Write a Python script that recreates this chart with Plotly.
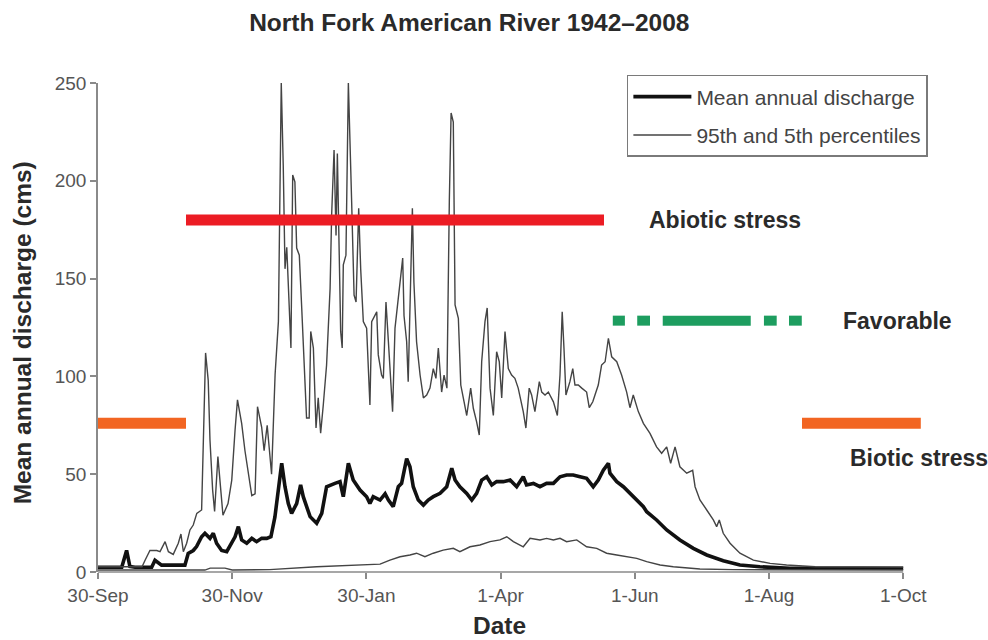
import plotly.graph_objects as go

# ---------------- data (days since 30-Sep, discharge in cms) ----------------
tick_days = [0, 61, 122, 183, 244, 305, 366]
tick_labels = ["30-Sep", "30-Nov", "30-Jan", "1-Apr", "1-Jun", "1-Aug", "1-Oct"]

p95_days = [0, 20, 21.4, 23.6, 26.7, 28.2, 30.5, 32, 34.2, 36.5,
            37.7, 38.8, 40.3, 41.8, 43.3, 44.9, 47.1, 47.9, 48.9, 50.1,
            50.9, 52.1, 53, 54.5, 56.8, 59.1, 60.8, 62.3, 63.4, 65.3,
            66.8, 69.9, 71.4, 72.5, 74.4, 75.5, 76.9, 78.9, 80.5, 82,
            83.3, 84.2, 85, 85.8, 87, 87.7, 88.5, 89.5, 90.3, 91.5,
            92.6, 93.3, 94.8, 96, 96.7, 97.9, 99.1, 100.1, 101.2, 102.4,
            103.9, 105.5, 106.2, 107.3, 108.2, 108.8, 109.7, 110.3, 111, 111.5,
            112.7, 113.8, 115.3, 116.4, 117.3, 118.5, 119.4, 120.6, 122.1, 123.6,
            124.4, 126.7, 127.4, 128.9, 129.7, 130.9, 132, 133, 133.9, 135,
            136, 136.9, 138.5, 139.1, 140.3, 141, 142.1, 142.9, 143.6, 144.8,
            146.4, 147.9, 149.4, 150.9, 152.4, 153.6, 154.7, 156.2, 157.3, 158.6,
            159.7, 160.5, 161.5, 162.3, 163.8, 164.9, 166.4, 167.6, 169.4, 170.6,
            172.1, 173.3, 174.4, 175.9, 176.9, 178.2, 179.7, 181.2, 182.4, 183.5,
            185, 186.5, 188, 189.5, 191, 193.3, 194.5, 196, 197.1, 198.6,
            200.6, 201.7, 203.2, 204.7, 207, 208.8, 210, 211, 211.8, 212.7,
            214.5, 215.8, 216.8, 218.3, 219.9, 222.1, 223.3, 224.9, 225.9, 227.4,
            228.9, 230.5, 232, 233.5, 235.8, 238, 240.3, 241.8, 243.3, 245.6,
            247.9, 250.9, 253.9, 256.2, 258.5, 260.3, 262.3, 264.5, 267.6, 270.3,
            271.4, 273.6, 276.7, 279.7, 281.2, 282.4, 284.2, 287.3, 291.8, 297.9,
            305.5, 313, 326, 366]
p95_vals = [2.7, 2.7, 6, 11, 11, 10.4, 15.5, 10.4, 9, 14.7,
            19.4, 10.4, 14.7, 21.5, 24, 30, 31.7, 72.6, 112, 98,
            67.5, 42, 31, 59, 29, 35, 47, 72.6, 88, 76,
            62, 39, 40, 84.5, 74, 62, 75, 50, 101, 128,
            250, 208, 155, 166, 135, 114.5, 203, 199.5, 165.6, 162,
            135, 117.7, 78.7, 78.7, 123, 114.5, 73.6, 89, 71, 85.4,
            105.8, 145, 182.5, 215.7, 172, 214, 152, 123, 114.5, 157,
            162, 250, 189, 141.6, 138, 186, 155, 128, 124.7, 85.4,
            128, 133, 111, 100.7, 99, 138, 117.7, 100.7, 82, 124.7,
            135, 145, 160.5, 131, 117.7, 97.3, 145, 186, 148, 117.7,
            100.7, 89, 90.5, 94, 104, 99, 114.5, 92, 100.7, 94,
            190, 234.7, 230, 136.5, 129.7, 95.6, 87, 80, 94, 83.7,
            76.8, 70, 107.5, 128, 135, 94, 80, 112.6, 107.5, 89,
            122.9, 104, 100.7, 99, 94, 82, 73.6, 94, 90.5, 82,
            97.3, 92, 90.5, 92, 87, 80, 100.7, 133, 114.5, 90.5,
            97.3, 104, 95.6, 95.6, 94, 92, 84, 87, 90.5, 95.6,
            105.8, 107.5, 119.5, 110, 107.5, 100.7, 92, 84, 90.5, 82,
            76, 70.9, 64, 60.7, 64, 55.6, 64, 53.8, 50.5, 52,
            43.6, 36.8, 31.7, 26.6, 23.2, 26.6, 19.8, 14.7, 9.6, 6.1,
            4.4, 3.6, 2.7, 2.5]

mean_days = [0, 10.8, 13, 14.5, 16.8, 24.4, 25.9, 28.9, 39.5, 41,
             43.3, 44.8, 47.1, 48.6, 50.9, 52.4, 53.9, 56.2, 58.5, 60.8,
             62.3, 63.8, 65.3, 67.6, 69.9, 72.1, 74.4, 76.7, 78.6, 80.4,
             83.5, 85, 86.5, 88, 90.3, 92.1, 93.3, 96.4, 99.4, 101.7,
             103.9, 107.7, 110, 111.5, 113.8, 116, 119.1, 122.1, 123.6, 125.1,
             128.2, 130.5, 132, 134.2, 136.5, 138, 140.3, 141.8, 143.3, 145.6,
             147.9, 150.1, 152.4, 155.5, 158.5, 160.8, 162.3, 164.5, 167.6, 169.9,
             172.1, 174.4, 176.7, 179, 181.2, 184.2, 187.3, 190.3, 193.3, 194.8,
             197.9, 200.9, 203.9, 207, 210, 213, 216, 219.1, 222.1, 225.1,
             227.4, 229.7, 232, 232.7, 234.2, 235.8, 238.8, 240.3, 243.3, 244.9,
             247.9, 249.4, 252.4, 253.9, 258.5, 264.5, 270.6, 276.7, 284.2, 291.8,
             300.9, 314.5, 366]
mean_vals = [2.4, 2.4, 11, 2.8, 2.4, 2.4, 6, 3.5, 3.5, 9.5,
             11, 13, 18, 19.8, 17.2, 19.8, 14.7, 11, 10.4, 14.7,
             18, 23.2, 16.4, 14.7, 17.2, 15.5, 17.2, 17.2, 18, 28,
             55.6, 43.6, 35, 30, 35, 44.5, 38.5, 28.3, 24.9, 30,
             43.6, 45.3, 46.2, 38.5, 55.6, 47, 41.9, 38.5, 35, 38.5,
             36.8, 40, 36.8, 33.4, 43.6, 45.3, 58, 53.8, 43.6, 36.8,
             34.2, 36.8, 38.5, 40.2, 43.6, 53, 47, 43.6, 40.2, 36.8,
             40.2, 47, 48.7, 44.5, 46.2, 46.2, 47, 43.6, 48.7, 44.5,
             45.3, 43.6, 45.3, 45.3, 48.7, 49.6, 49.6, 48.7, 47.9, 43.6,
             47, 52, 55.6, 50.5, 48.7, 46.2, 43.6, 41.9, 38.5, 36.8,
             33.4, 30.8, 28.3, 26.6, 21.5, 16.4, 12.1, 8.7, 5.8, 3.6,
             2.7, 1.9, 1.9]

p5_days = [0, 48.6, 51, 57.7, 61, 78, 99.4, 122.1, 128.2, 132.7,
           137.3, 141.8, 144.8, 148.6, 152.4, 156.9, 161.5, 164.5, 169.1, 173.6,
           178.2, 182.7, 185.8, 188.8, 193.3, 196.4, 200.9, 203.9, 207, 210,
           213, 217.6, 222.1, 226.7, 231.2, 235.8, 240.3, 244.9, 249.4, 255.5,
           261.5, 273.6, 288.6, 366]
p5_vals = [1, 1, 2, 2, 1, 1.2, 2.7, 3.6, 4, 6.1,
           7.8, 8.7, 9.6, 7.8, 9.6, 11.2, 12.1, 10.4, 12.9, 13.8,
           15.5, 16.4, 18, 15.5, 12.9, 17.2, 16.4, 17.2, 16.4, 17.2,
           15.5, 16.4, 12.9, 12.1, 9.6, 8.7, 7.8, 7, 5.3, 3.6,
           2.7, 1.5, 1.2, 1]

# stress / favourable periods: [start_day, end_day], discharge level
abiotic_span = [40, 230]
abiotic_level = 180
biotic_spans = [[0, 40], [320, 374]]
biotic_level = 76
favorable_spans = [[234, 239.5], [245.1, 250.9], [256.7, 296.7], [302.7, 308.5], [314.1, 319.9]]
favorable_level = 128.5

FONT = "Liberation Sans, Arial, sans-serif"

# ---------------- figure ----------------
fig = go.Figure()

fig.add_trace(go.Scatter(x=mean_days, y=mean_vals, mode="lines",
                         name="Mean annual discharge", legendgroup="mean",
                         line=dict(color="#111111", width=3.6)))
fig.add_trace(go.Scatter(x=p95_days, y=p95_vals, mode="lines",
                         name="95th and 5th percentiles", legendgroup="pct",
                         line=dict(color="#444444", width=1.4)))
fig.add_trace(go.Scatter(x=p5_days, y=p5_vals, mode="lines",
                         name="5th percentile", legendgroup="pct", showlegend=False,
                         line=dict(color="#444444", width=1.4)))

def span_xy(spans, level):
    xs, ys = [], []
    for a, b in spans:
        xs += [a, b, None]
        ys += [level, level, None]
    return xs, ys

ax_, ay_ = span_xy([abiotic_span], abiotic_level)
fig.add_trace(go.Scatter(x=ax_, y=ay_, mode="lines", showlegend=False, hoverinfo="skip",
                         line=dict(color="#ec1c24", width=11)))
bx_, by_ = span_xy(biotic_spans, biotic_level)
fig.add_trace(go.Scatter(x=bx_, y=by_, mode="lines", showlegend=False, hoverinfo="skip",
                         line=dict(color="#f26522", width=11)))
fx_, fy_ = span_xy(favorable_spans, favorable_level)
fig.add_trace(go.Scatter(x=fx_, y=fy_, mode="lines", showlegend=False, hoverinfo="skip",
                         line=dict(color="#1d9d5f", width=10)))

# x-axis baseline up to 1-Oct
fig.add_shape(type="line", xref="x", yref="paper", x0=tick_days[0], x1=tick_days[-1],
              y0=0, y1=0, line=dict(color="#8a8a8a", width=1.5))

label_font = dict(family=FONT, size=23, color="#2a2a2a")
fig.add_annotation(x=249.4, y=abiotic_level, xref="x", yref="y", text="<b>Abiotic stress</b>",
                   showarrow=False, xanchor="left", yanchor="middle", font=label_font)
fig.add_annotation(x=337.6, y=favorable_level, xref="x", yref="y", text="<b>Favorable</b>",
                   showarrow=False, xanchor="left", yanchor="middle", font=label_font)
fig.add_annotation(x=341, y=58.5, xref="x", yref="y", text="<b>Biotic stress</b>",
                   showarrow=False, xanchor="left", yanchor="middle", font=label_font)

axis_title_font = dict(family=FONT, size=24.5, color="#2a2a2a")
fig.add_annotation(x=-0.0864, y=0.49, xref="paper", yref="paper",
                   text="<b>Mean annual discharge (cms)</b>", textangle=-90,
                   showarrow=False, xanchor="center", yanchor="middle", font=axis_title_font)
fig.add_annotation(x=0.4557, y=-0.109, xref="paper", yref="paper", text="<b>Date</b>",
                   showarrow=False, xanchor="center", yanchor="middle", font=axis_title_font)

fig.update_layout(
    width=988, height=640,
    margin=dict(l=98, r=10, t=83, b=68),
    paper_bgcolor="white", plot_bgcolor="white",
    title=dict(text="<b>North Fork American River 1942–2008</b>",
               x=0.475, xanchor="center", y=1 - 22 / 640, yanchor="middle",
               font=dict(family=FONT, size=24.5, color="#2a2a2a")),
    showlegend=True,
    legend=dict(x=0.601, y=1.0164, xanchor="left", yanchor="top",
                bgcolor="white", bordercolor="#7a7a7a", borderwidth=1.5,
                font=dict(family=FONT, size=21, color="#444444"),
                itemwidth=58, tracegroupgap=8, traceorder="grouped"),
    xaxis=dict(range=[0, 400], showgrid=False, zeroline=False, showline=False,
               tickmode="array", tickvals=tick_days, ticktext=tick_labels,
               ticks="outside", ticklen=6, tickcolor="#8a8a8a", tickwidth=1.5,
               tickfont=dict(family=FONT, size=19, color="#555555")),
    yaxis=dict(range=[0, 250], dtick=50, showgrid=False, zeroline=False,
               showline=True, linecolor="#8a8a8a", linewidth=1.5,
               ticks="outside", ticklen=6, tickcolor="#8a8a8a", tickwidth=1.5,
               tickfont=dict(family=FONT, size=19, color="#555555")),
)

fig.write_html("out.html")
